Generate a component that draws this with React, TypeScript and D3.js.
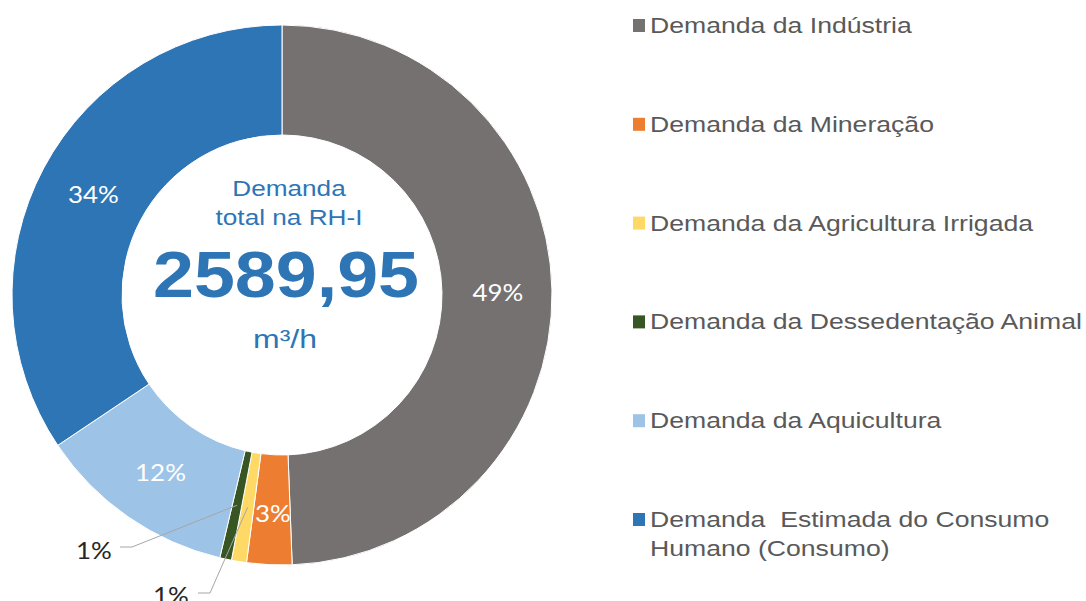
import React, { useRef, useEffect } from "react";
import * as d3 from "d3";

const categories = [
  "Demanda da Indústria",
  "Demanda da Mineração",
  "Demanda da Agricultura Irrigada",
  "Demanda da Dessedentação Animal",
  "Demanda da Aquicultura",
  "Demanda  Estimada do Consumo Humano (Consumo)",
];
const shares = [49.4, 2.7, 0.9, 0.7, 11.9, 34.4];
const colors = ["#767171", "#ED7D31", "#FFD966", "#375623", "#9DC3E6", "#2E75B6"];
const legendLines = [
  ["Demanda da Indústria"],
  ["Demanda da Mineração"],
  ["Demanda da Agricultura Irrigada"],
  ["Demanda da Dessedentação Animal"],
  ["Demanda da Aquicultura"],
  ["Demanda  Estimada do Consumo", "Humano (Consumo)"],
];
const centerTitle = ["Demanda", "total na RH-I"];
const totalLabel = "2589,95";
const unitLabel = "m³/h";

const App = () => {
  const ref = useRef<SVGSVGElement>(null);
  const width = 1086;
  const height = 601;

  useEffect(() => {
    const svg = d3.select(ref.current);
    svg.selectAll("*").remove();
    svg.attr("width", width).attr("height", height);

    const cx = 282;
    const cy = 295;
    const outer = 270;
    const inner = 160;

    const data = categories.map((c, i) => ({ label: c, value: shares[i], color: colors[i] }));

    const pie = d3
      .pie<any>()
      .sort(null)
      .value((d) => d.value);
    const arcs = pie(data);

    const arc = d3.arc<any>().innerRadius(inner).outerRadius(outer);
    const labelArc = d3.arc<any>().innerRadius(215).outerRadius(215);

    const g = svg.append("g").attr("transform", `translate(${cx},${cy})`);

    g.selectAll(".slice")
      .data(arcs)
      .enter()
      .append("path")
      .attr("d", arc)
      .attr("fill", (d) => d.data.color)
      .attr("stroke", "#fff")
      .attr("stroke-width", 1);

    const fmt = (v: number) => `${Math.round(v)}%`;
    const pctFont = "Lato, 'Open Sans', sans-serif";
    const sans = "'Liberation Sans', Arial, sans-serif";

    // text drawn a bit wider than the font, like the original
    const wideText = (parent: any, x: number, y: number, sx: number, txt: string) =>
      parent
        .append("text")
        .attr("transform", `translate(${x},${y}) scale(${sx},1)`)
        .text(txt);

    // labels inside the big slices
    arcs.forEach((d, i) => {
      if (i === 2 || i === 3) return;
      const [x, y] = labelArc.centroid(d);
      wideText(g, x + 1, y + (i === 1 ? 3 : 0), 1.08, fmt(d.data.value))
        .attr("text-anchor", "middle")
        .attr("dominant-baseline", "central")
        .attr("fill", "#fff")
        .style("font-family", pctFont)
        .style("font-size", "24px");
    });

    // small slices: leader lines and outside labels
    const outside = [
      { idx: 3, tx: -206, ty: 254, lx: -162, ly: 252 },
      { idx: 2, tx: -129, ty: 299, lx: -84, ly: 298 },
    ];
    outside.forEach((o) => {
      const [ex, ey] = labelArc.centroid(arcs[o.idx]);
      g.append("polyline")
        .attr("points", `${o.lx},${o.ly} ${o.lx + 12},${o.ly} ${ex},${ey}`)
        .attr("fill", "none")
        .attr("stroke", "#A6A6A6")
        .attr("stroke-width", 1);
      wideText(g, o.tx, o.ty, 1.08, fmt(arcs[o.idx].data.value))
        .attr("dominant-baseline", "central")
        .attr("fill", "#262626")
        .style("font-family", pctFont)
        .style("font-size", "24px");
    });

    // centre text
    const blue = "#2E75B6";
    centerTitle.forEach((t, i) => {
      wideText(g, 7, -99 + i * 29, 1.19, t)
        .attr("text-anchor", "middle")
        .attr("fill", blue)
        .style("font-family", sans)
        .style("font-size", "22px");
    });
    wideText(g, 4, 2, 1.15, totalLabel)
      .attr("text-anchor", "middle")
      .attr("fill", blue)
      .style("font-family", sans)
      .style("font-size", "64px")
      .style("font-weight", "bold");
    wideText(g, 3, 53, 1.28, unitLabel)
      .attr("text-anchor", "middle")
      .attr("fill", blue)
      .style("font-family", sans)
      .style("font-size", "25px");

    // legend
    const ly = d3.scaleLinear().domain([0, 5]).range([33, 527]);
    const legend = svg.append("g");
    legendLines.forEach((lines, i) => {
      legend
        .append("rect")
        .attr("x", 633)
        .attr("y", ly(i) - 14)
        .attr("width", 12)
        .attr("height", 13)
        .attr("fill", colors[i]);
      lines.forEach((line, j) => {
        wideText(legend, 650, ly(i) + j * 29, 1.21, line)
          .attr("fill", "#595959")
          .style("font-family", sans)
          .style("font-size", "22px")
          .style("white-space", "pre")
          .attr("xml:space", "preserve");
      });
    });
  }, []);

  return (
    <svg
      ref={ref}
      style={{ position: "absolute", left: 0, top: 0, background: "#fff" }}
    ></svg>
  );
};

export default App;
